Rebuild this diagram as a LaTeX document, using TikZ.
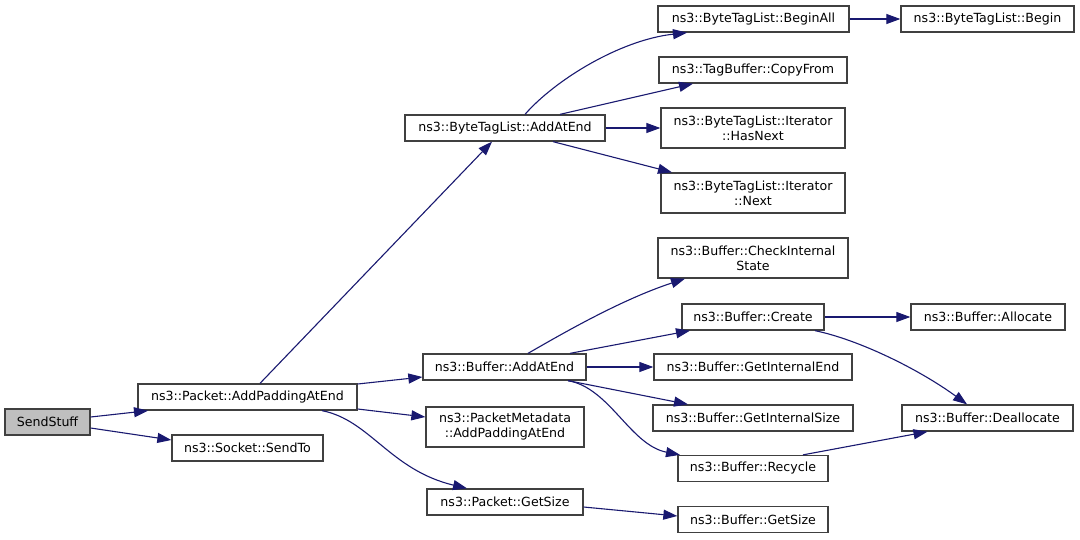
\documentclass[tikz,border=0pt]{standalone}
\usepackage{fontspec}
\setmainfont{DejaVu Sans}
\usetikzlibrary{arrows.meta}
\definecolor{edgec}{HTML}{191970}
\definecolor{boxc}{HTML}{404040}
\definecolor{grayfill}{HTML}{BFBFBF}
\begin{document}
\begin{tikzpicture}[x=1pt,y=-1pt,
  fn/.style={draw=boxc, line width=1.3pt, fill=white, inner sep=0pt, align=center,
    font=\fontsize{12.6}{15}\selectfont, text=black, minimum height=26pt},
  two/.style={minimum height=40pt},
  e/.style={draw=edgec, line width=1.1pt, -{Triangle[length=14pt,width=10pt,fill=edgec]}}]
\fill[white] (0,0) rectangle (1080,539);
\useasboundingbox (0,0) rectangle (1080,539);

\node[fn, minimum width=85pt, fill=grayfill] (send) at (47.5,422) {SendStuff};
\node[fn, minimum width=219pt] (pad) at (247.5,397) {ns3::Packet::AddPaddingAtEnd};
\node[fn, minimum width=151pt] (sendto) at (247.5,448) {ns3::Socket::SendTo};
\node[fn, minimum width=200pt] (btlAdd) at (505,128) {ns3::ByteTagList::AddAtEnd};
\node[fn, minimum width=191pt] (beginall) at (753.5,19) {ns3::ByteTagList::BeginAll};
\node[fn, minimum width=173pt] (begin) at (987.5,19) {ns3::ByteTagList::Begin};
\node[fn, minimum width=188pt] (copyfrom) at (753,70) {ns3::TagBuffer::CopyFrom};
\node[fn, two, minimum width=184pt] (hasnext) at (753,128) {ns3::ByteTagList::Iterator\\::HasNext};
\node[fn, two, minimum width=184pt] (next) at (753,193) {ns3::ByteTagList::Iterator\\::Next};
\node[fn, two, minimum width=190pt] (check) at (753,258) {ns3::Buffer::CheckInternal\\State};
\node[fn, minimum width=142pt] (create) at (753,317) {ns3::Buffer::Create};
\node[fn, minimum width=154pt] (allocate) at (988,317) {ns3::Buffer::Allocate};
\node[fn, minimum width=163pt] (bufAdd) at (504.5,367) {ns3::Buffer::AddAtEnd};
\node[fn, minimum width=198pt] (getIntEnd) at (753,367) {ns3::Buffer::GetInternalEnd};
\node[fn, minimum width=200pt] (getIntSize) at (753,418) {ns3::Buffer::GetInternalSize};
\node[fn, minimum width=171pt] (dealloc) at (987.5,418) {ns3::Buffer::Deallocate};
\node[fn, two, minimum width=158pt] (pmeta) at (505,427) {ns3::PacketMetadata\\::AddPaddingAtEnd};
\node[fn, minimum width=150pt] (recycle) at (753,468.5) {ns3::Buffer::Recycle};
\node[fn, minimum width=156pt] (pgetsize) at (505,502) {ns3::Packet::GetSize};
\node[fn, minimum width=150pt] (bgetsize) at (753,519.5) {ns3::Buffer::GetSize};

\draw[e] ([yshift=5pt]send.east) -- ([xshift=-99.5pt]pad.south);
\draw[e] ([yshift=-6pt]send.east) -- ([yshift=8pt]sendto.west);
\draw[e] ([xshift=12.5pt]pad.north) -- ([xshift=-13pt]btlAdd.south);
\draw[e] ([yshift=13pt]pad.east) -- ([yshift=-10pt]bufAdd.west);
\draw[e] ([yshift=-12pt]pad.east) -- ([yshift=10pt]pmeta.west);
\draw[e] ([xshift=74.5pt]pad.south) .. controls (370,420) and (390,470) .. ([xshift=-38pt]pgetsize.north);
\draw[e] ([xshift=20pt]btlAdd.north) .. controls (555,80) and (620,40) .. ([xshift=-66.5pt]beginall.south);
\draw[e] ([xshift=55pt]btlAdd.north) -- ([xshift=-60pt]copyfrom.south);
\draw[e] (btlAdd.east) -- (hasnext.west);
\draw[e] ([xshift=48pt]btlAdd.south) -- ([xshift=-81pt]next.north);
\draw[e] (beginall.east) -- (begin.west);
\draw[e] ([xshift=23.5pt]bufAdd.north) .. controls (560,335) and (620,300) .. ([xshift=-68pt]check.south);
\draw[e] ([xshift=65.5pt]bufAdd.north) -- ([xshift=-63pt]create.south);
\draw[e] (bufAdd.east) -- (getIntEnd.west);
\draw[e] ([xshift=63.5pt]bufAdd.south) -- ([xshift=-65pt]getIntSize.north);
\draw[e] ([xshift=63.5pt]bufAdd.south) .. controls (610,388) and (630,445) .. ([xshift=-73pt]recycle.north);
\draw[e] (create.east) -- (allocate.west);
\draw[e] ([xshift=62pt]create.south) .. controls (860,340) and (920,370) .. ([xshift=-20.5pt]dealloc.north);
\draw[e] ([xshift=50pt]recycle.north) -- ([xshift=-60pt]dealloc.south);
\draw[e] ([yshift=-5pt]pgetsize.east) -- ([yshift=3.5pt]bgetsize.west);
\end{tikzpicture}
\end{document}
